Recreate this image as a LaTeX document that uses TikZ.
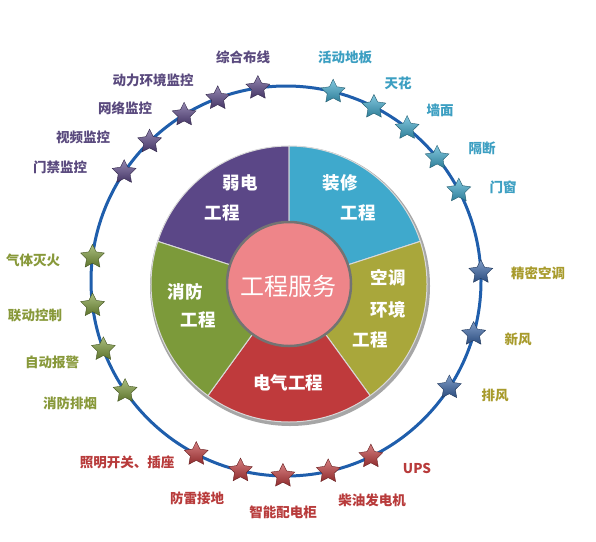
\documentclass[tikz,border=0pt]{standalone}
\usepackage{fontspec}
\newfontfamily\cjk{Noto Sans CJK SC}
\usetikzlibrary{shapes.geometric}
\definecolor{ringblue}{HTML}{1F5EAC}
\definecolor{rdpurple}{HTML}{5B4787}
\definecolor{zxcyan}{HTML}{3FA9CC}
\definecolor{ktolive}{HTML}{A9A73B}
\definecolor{ktblue}{HTML}{3A66A8}
\definecolor{dqred}{HTML}{BF3A3C}
\definecolor{xfgreen}{HTML}{7C9A3A}
\definecolor{fwpink}{HTML}{EE8589}
\definecolor{txpurple}{HTML}{5A4A7E}
\definecolor{txcyan}{HTML}{3C9FC2}
\definecolor{txolive}{HTML}{A89B2C}
\definecolor{txgreen}{HTML}{88993A}
\definecolor{txred}{HTML}{B83B3B}
\begin{document}
\begin{tikzpicture}[x=1pt, y=-1pt]
  \tikzset{
    seg/.style={draw=white!85!black, line width=1pt},
    segtxt/.style={font=\cjk\bfseries\fontsize{17.5}{18}\selectfont, text=white},
    starnode/.style={star, star points=5, star point ratio=2.0, minimum size=25pt,
                     inner sep=0pt, draw=#1!55!black, line width=0.4pt,
                     top color=#1!65!white, bottom color=#1!75!black},
    lbl/.style={font=\cjk\bfseries\fontsize{13.5}{14}\selectfont, text=#1},
  }
  \useasboundingbox[fill=white] (0,0) rectangle (596,541);
  \def\cx{286} \def\cy{281} \def\R{195}
  \def\px{289} \def\py{284} \def\ro{138} \def\ri{62}
  % outer ring
  \draw[ringblue, line width=3pt] (\cx,\cy) circle[radius=\R];
  % pie segments
  \fill[black!35] (\px+1,\py+2) circle[radius=\ro+2];
  \foreach \a/\b/\col in {90/162/rdpurple, 18/90/zxcyan, -54/18/ktolive,
                          -126/-54/dqred, 162/234/xfgreen}{
    \path[seg, fill=\col]
      ({\px+\ri*cos(\a)},{\py-\ri*sin(\a)}) -- ({\px+\ro*cos(\a)},{\py-\ro*sin(\a)})
      arc[start angle=-\a, end angle=-\b, radius=\ro]
      -- ({\px+\ri*cos(\b)},{\py-\ri*sin(\b)})
      arc[start angle=-\b, end angle=-\a, radius=\ri] -- cycle;
  }
  \draw[fill=fwpink, draw=black!55, line width=2.5pt] (\px,\py) circle[radius=\ri];
  \node[font=\cjk\fontsize{24}{24}\selectfont, text=white] (fw) at (288,286) {工程服务};
  % segment titles
  \node[segtxt] (rd1) at (240,183) {弱电};
  \node[segtxt] (rd2) at (222,213) {工程};
  \node[segtxt] (zx1) at (340,183) {装修};
  \node[segtxt] (zx2) at (358,213) {工程};
  \node[segtxt] (kt1) at (388,278) {空调};
  \node[segtxt] (kt2) at (388,310) {环境};
  \node[segtxt] (kt3) at (370,340) {工程};
  \node[segtxt] (xf1) at (185,292) {消防};
  \node[segtxt] (xf2) at (198,320) {工程};
  \node[segtxt] (dq1) at (288,383) {电气工程};
  % stars and labels: 弱电
  \foreach \n/\a/\lx/\ly/\txt in {1/98.3/243/57/综合布线, 2/110.5/153/80/动力环境监控,
      3/121.5/125/108/网络监控, 4/134.4/83/137/视频监控, 5/146.1/60/167/门禁监控}{
    \node[starnode=rdpurple] (rds\n) at ({\cx+\R*cos(\a)},{\cy-\R*sin(\a)}) {};
    \node[lbl=txpurple] (rdl\n) at (\lx,\ly) {\txt};
  }
  % 装修
  \foreach \n/\a/\lx/\ly/\txt in {1/76/345/57/活动地板, 2/63.2/398/83/天花,
      3/51.6/440/110/墙面, 4/39.2/482/148/隔断, 5/27.6/503/187/门窗}{
    \node[starnode=zxcyan] (zxs\n) at ({\cx+\R*cos(\a)},{\cy-\R*sin(\a)}) {};
    \node[lbl=txcyan] (zxl\n) at (\lx,\ly) {\txt};
  }
  % 空调环境
  \foreach \n/\a/\lx/\ly/\txt in {1/2.6/538/273/精密空调, 2/-15.8/518/339/新风,
      3/-33.1/495/395/排风}{
    \node[starnode=ktblue] (kts\n) at ({\cx+\R*cos(\a)},{\cy-\R*sin(\a)}) {};
    \node[lbl=txolive] (ktl\n) at (\lx,\ly) {\txt};
  }
  % 消防
  \foreach \n/\a/\lx/\ly/\txt in {1/172.9/33/260/气体灭火, 2/187.2/35/315/联动控制,
      3/200.5/52/362/自动报警, 4/214.4/70/403/消防排烟}{
    \node[starnode=xfgreen] (xfs\n) at ({\cx+\R*cos(\a)},{\cy-\R*sin(\a)}) {};
    \node[lbl=txgreen] (xfl\n) at (\lx,\ly) {\txt};
  }
  % 电气
  \foreach \n/\a/\lx/\ly/\txt in {1/242.6/127/462/照明开关、插座, 2/256.5/197/498/防雷接地,
      3/269.1/283/512/智能配电柜, 4/282.5/372/500/柴油发电机, 5/295.8/417/468/UPS}{
    \node[starnode=dqred] (dqs\n) at ({\cx+\R*cos(\a)},{\cy-\R*sin(\a)}) {};
    \node[lbl=txred] (dql\n) at (\lx,\ly) {\txt};
  }
\end{tikzpicture}
\end{document}
